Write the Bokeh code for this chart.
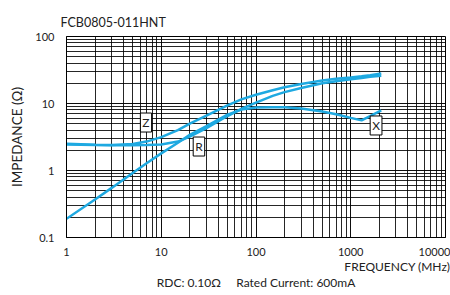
import math
from bokeh.plotting import figure
from bokeh.models import FixedTicker, Label, Range1d, Title
from bokeh.embed import file_html
from bokeh.resources import INLINE

# ---- data ----
freq_mhz = [1, 2, 3, 5, 7, 10, 15, 20, 30, 50, 70, 100, 150, 200, 300, 500, 700, 1000, 1300, 1600, 2100]
z_ohm = [2.5, 2.42, 2.4, 2.48, 2.7, 3.15, 4.0, 5.0, 6.6, 9.4, 11.5, 13.5, 15.8, 17.5, 19.6, 22.0, 23.4, 24.5, 25.5, 26.5, 28.0]
r_ohm = [2.45, 2.4, 2.38, 2.38, 2.4, 2.45, 2.7, 3.2, 4.3, 6.5, 8.3, 10.3, 13.0, 14.8, 17.0, 20.0, 21.5, 23.0, 24.0, 25.0, 26.0]
x_ohm = [0.19, 0.37, 0.55, 0.92, 1.28, 1.8, 2.6, 3.4, 4.6, 6.8, 8.1, 8.7, 8.8, 8.8, 8.4, 7.6, 6.9, 6.1, 5.6, 6.5, 7.9]

curve_names = ["Z", "R", "X"]
curve_label_freq = [6.9, 25.0, 1850]
curve_label_ohm = [5.2, 2.28, 4.7]

x_ticks = [1, 10, 100, 1000, 10000]
x_tick_labels = ["1", "10", "100", "1000", "10000"]
y_ticks = [0.1, 1, 10, 100]
y_tick_labels = ["0.1", "1", "10", "100"]

title_text = "FCB0805-011HNT"
x_title = "FREQUENCY (MHz)"
y_title = "IMPEDANCE (\u03a9)"
note_text = "RDC: 0.10\u03a9" + "\u00a0" * 5 + "Rated Current: 600mA"

FONT = "Lato"
BLUE = "#1ea9e1"
TXT = "#222222"

x_minor = [m * 10 ** k for k in range(0, 4) for m in range(2, 10)]
y_minor = [m * 10.0 ** k for k in range(-1, 2) for m in range(2, 10)]

p = figure(width=450, height=295, x_axis_type="log", y_axis_type="log",
           x_range=Range1d(x_ticks[0], x_ticks[-1]), y_range=Range1d(y_ticks[0], y_ticks[-1]),
           output_backend="svg", toolbar_location=None,
           min_border_left=66, min_border_right=5, min_border_top=36, min_border_bottom=58)

p.xaxis.ticker = FixedTicker(ticks=x_ticks, minor_ticks=x_minor)
p.yaxis.ticker = FixedTicker(ticks=y_ticks, minor_ticks=y_minor)
p.xaxis.major_label_overrides = {t: l for t, l in zip(x_ticks, x_tick_labels)}
p.yaxis.major_label_overrides = {t: l for t, l in zip(y_ticks, y_tick_labels)}

for ax in (p.xaxis, p.yaxis):
    ax.major_tick_line_color = None
    ax.minor_tick_line_color = None
    ax.major_tick_out = 0
    ax.major_tick_in = 0
    ax.axis_line_color = "black"
    ax.major_label_text_font = FONT
    ax.major_label_text_font_size = "11px"
    ax.major_label_text_color = TXT
    ax.axis_label_text_font = FONT
    ax.axis_label_text_font_style = "normal"
    ax.axis_label_text_color = TXT
p.xaxis.major_label_standoff = 6
p.yaxis.major_label_standoff = 8
p.yaxis.axis_label = y_title
p.yaxis.axis_label_text_font_size = "13.5px"
p.yaxis.axis_label_standoff = 7

for g in (p.xgrid, p.ygrid):
    g.grid_line_color = "black"
    g.grid_line_alpha = 0.95
    g.grid_line_width = 1
    g.minor_grid_line_color = "black"
    g.minor_grid_line_alpha = 0.85
    g.minor_grid_line_width = 1

p.outline_line_color = "black"
p.outline_line_width = 1
p.background_fill_color = "white"
p.border_fill_color = "white"

for vals in (z_ohm, r_ohm, x_ohm):
    p.line(freq_mhz, vals, line_color=BLUE, line_width=2.5)

for name, f, v in zip(curve_names, curve_label_freq, curve_label_ohm):
    p.add_layout(Label(x=f, y=v, text=name, text_align="center", text_baseline="middle",
                       text_font=FONT, text_font_size="12px", text_color=TXT,
                       background_fill_color="white", border_line_color="black",
                       border_line_width=1, padding=2))

p.add_layout(Title(text=title_text, align="left", offset=-6, standoff=13,
                   text_font=FONT, text_font_size="12.5px", text_font_style="normal",
                   text_color=TXT), "above")
p.add_layout(Title(text=x_title, align="right", offset=-5, standoff=-4,
                   text_font=FONT, text_font_size="12px", text_font_style="normal",
                   text_color=TXT), "below")
p.add_layout(Title(text=note_text, align="center", offset=3, standoff=2,
                   text_font=FONT, text_font_size="12px", text_font_style="normal",
                   text_color=TXT), "below")

open("out.html", "w").write(file_html(p, INLINE))
